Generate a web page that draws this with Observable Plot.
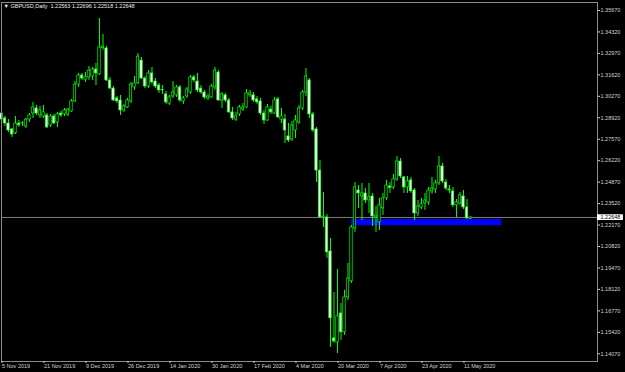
<!DOCTYPE html>
<html>
<head>
<meta charset="utf-8">
<script src="https://cdn.jsdelivr.net/npm/d3@7"></script>
<script src="https://cdn.jsdelivr.net/npm/@observablehq/plot@0.6"></script>
<style>
  html, body { margin: 0; padding: 0; background: #000; }
  #chart { width: 625px; height: 372px; }
</style>
</head>
<body>
<div id="chart"></div>
<script>
const symbol = "GBPUSD";
const timeframe = "Daily";

const open = [
1.2919,1.2888,1.2856,1.2819,1.2794,1.2856,1.2855,1.2837,1.2881,1.2919,
1.2951,1.2907,1.2900,1.2907,1.2844,1.2900,1.2863,1.2919,1.2913,1.2913,
1.2932,1.2995,1.3101,1.3158,1.3133,1.3146,1.3152,1.3196,1.3165,1.3330,
1.3328,1.3127,1.3076,1.3014,1.3001,1.2938,1.2957,1.2995,1.3083,1.3108,
1.3252,1.3139,1.3089,1.3171,1.3120,1.3095,1.3064,1.3039,1.2982,1.3026,
1.3033,1.3083,1.2995,1.3026,1.3051,1.3146,1.3120,1.3076,1.3051,1.3014,
1.3020,1.3083,1.3177,1.3001,1.3033,1.3001,1.2926,1.2881,1.2913,1.2944,
1.2957,1.3033,1.3033,1.3008,1.2995,1.2919,1.2875,1.2944,1.2919,1.3008,
1.2881,1.2881,1.2775,1.2756,1.2812,1.2863,1.2951,1.3051,1.3127,1.2913,
1.2819,1.2560,1.2265,1.2265,1.2051,1.1504,1.1479,1.1661,1.1542,1.1762,
1.1863,1.2196,1.2435,1.2397,1.2416,1.2372,1.2397,1.2265,1.2234,1.2322,
1.2385,1.2460,1.2454,1.2504,1.2617,1.2517,1.2454,1.2498,1.2435,1.2290,
1.2328,1.2353,1.2359,1.2429,1.2441,1.2479,1.2586,1.2485,1.2441,1.2429,
1.2341,1.2353,1.2397,1.2328,1.22563
];
const high = [
1.2938,1.2900,1.2881,1.2825,1.2900,1.2875,1.2869,1.2888,1.2919,1.2989,
1.2970,1.2964,1.2970,1.2919,1.2913,1.2913,1.2926,1.2932,1.2951,1.2951,
1.3008,1.3120,1.3171,1.3171,1.3177,1.3215,1.3209,1.3234,1.3517,1.3416,
1.3341,1.3146,1.3089,1.3026,1.3033,1.2976,1.3014,1.3114,1.3152,1.3296,
1.3271,1.3152,1.3189,1.3209,1.3139,1.3108,1.3095,1.3058,1.3033,1.3120,
1.3095,1.3095,1.3026,1.3083,1.3158,1.3158,1.3171,1.3095,1.3064,1.3039,
1.3101,1.3209,1.3189,1.3051,1.3045,1.3014,1.2957,1.2926,1.2970,1.2982,
1.3070,1.3064,1.3051,1.3026,1.3014,1.2938,1.2976,1.2964,1.3020,1.3020,
1.2951,1.2913,1.2856,1.2869,1.2907,1.2970,1.3064,1.3202,1.3139,1.2926,
1.2831,1.2623,1.2422,1.2284,1.2133,1.1793,1.1938,1.1724,1.1806,1.1976,
1.2215,1.2485,1.2466,1.2479,1.2447,1.2479,1.2416,1.2334,1.2385,1.2416,
1.2498,1.2485,1.2536,1.2649,1.2636,1.2523,1.2523,1.2517,1.2447,1.2372,
1.2385,1.2416,1.2454,1.2517,1.2498,1.2649,1.2605,1.2504,1.2466,1.2454,
1.2378,1.2422,1.2435,1.2378,1.22696
];
const low = [
1.2869,1.2837,1.2800,1.2768,1.2787,1.2831,1.2837,1.2825,1.2863,1.2888,
1.2907,1.2888,1.2888,1.2825,1.2831,1.2850,1.2831,1.2894,1.2900,1.2900,
1.2926,1.2989,1.3083,1.3127,1.3114,1.3127,1.3127,1.3095,1.3158,1.3315,
1.3120,1.3070,1.2995,1.2982,1.2907,1.2926,1.2951,1.2982,1.3064,1.3101,
1.3133,1.3076,1.3076,1.3101,1.3076,1.3045,1.3039,1.2976,1.2970,1.3014,
1.3020,1.2989,1.2976,1.3014,1.3039,1.3114,1.3051,1.3039,1.3008,1.3001,
1.3014,1.3064,1.2995,1.2951,1.2989,1.2919,1.2875,1.2869,1.2900,1.2932,
1.2951,1.3020,1.2989,1.2976,1.2907,1.2850,1.2869,1.2913,1.2913,1.2888,
1.2856,1.2730,1.2737,1.2743,1.2762,1.2850,1.2938,1.3026,1.2888,1.2800,
1.2485,1.2259,1.2202,1.2007,1.1447,1.1472,1.1409,1.1491,1.1523,1.1743,
1.1850,1.2171,1.2322,1.2246,1.2353,1.2290,1.2208,1.2171,1.2183,1.2277,
1.2372,1.2416,1.2441,1.2491,1.2510,1.2416,1.2416,1.2416,1.2246,1.2271,
1.2315,1.2309,1.2341,1.2410,1.2416,1.2466,1.2479,1.2435,1.2416,1.2328,
1.2265,1.2341,1.2315,1.2252,1.22518
];
const close = [
1.2881,1.2856,1.2812,1.2787,1.2856,1.2844,1.2857,1.2881,1.2907,1.2957,
1.2919,1.2938,1.2926,1.2831,1.2900,1.2856,1.2913,1.2907,1.2938,1.2944,
1.2995,1.3101,1.3158,1.3139,1.3146,1.3189,1.3196,1.3171,1.3334,1.3341,
1.3127,1.3076,1.3001,1.2995,1.2938,1.2964,1.3001,1.3101,1.3108,1.3277,
1.3139,1.3089,1.3171,1.3114,1.3089,1.3064,1.3067,1.2989,1.3020,1.3051,
1.3083,1.3001,1.3014,1.3070,1.3146,1.3127,1.3064,1.3051,1.3020,1.3026,
1.3089,1.3189,1.3001,1.3039,1.3001,1.2926,1.2888,1.2900,1.2957,1.2957,
1.3045,1.3045,1.3001,1.2989,1.2919,1.2875,1.2957,1.2926,1.3001,1.2894,
1.2900,1.2812,1.2749,1.2844,1.2875,1.2951,1.3051,1.3152,1.2913,1.2812,
1.2560,1.2265,1.2271,1.2045,1.1630,1.1485,1.1642,1.1542,1.1762,1.1881,
1.2202,1.2454,1.2416,1.2416,1.2372,1.2391,1.2271,1.2277,1.2341,1.2385,
1.2466,1.2450,1.2504,1.2617,1.2523,1.2454,1.2491,1.2429,1.2290,1.2334,
1.2347,1.2372,1.2435,1.2447,1.2479,1.2586,1.2491,1.2447,1.2435,1.2341,
1.2359,1.2404,1.2328,1.2259,1.22648
];

// x-axis labels (bar index of each labelled day)
const xTickIndex = [0, 12, 24, 36, 48, 60, 72, 84, 96, 108, 120, 132];
const xTickLabels = ["5 Nov 2019", "21 Nov 2019", "9 Dec 2019", "26 Dec 2019", "14 Jan 2020", "30 Jan 2020",
  "17 Feb 2020", "4 Mar 2020", "20 Mar 2020", "7 Apr 2020", "23 Apr 2020", "11 May 2020"];

// price axis ticks
const yTicks = [1.35670, 1.34320, 1.32970, 1.31620, 1.30270, 1.28920, 1.27570, 1.26220, 1.24870,
  1.23520, 1.22170, 1.20820, 1.19470, 1.18120, 1.16770, 1.15420, 1.14070];

// blue support zone (bar index range and price range)
const zoneStart = [100];
const zoneEnd = [143];
const zoneLow = [1.2213];
const zoneHigh = [1.2252];

const bars = open.map((o, i) => ({ i, open: o, high: high[i], low: low[i], close: close[i] }));
const bull = bars.filter(d => d.close >= d.open);
const bear = bars.filter(d => d.close < d.open);
const last = bars[bars.length - 1];
const zone = zoneStart.map((s, k) => ({ x1: s, x2: zoneEnd[k], y1: zoneLow[k], y2: zoneHigh[k] }));

const xMax = 170.29;
const half = 0.35;
const green = "#00ff00";
const font = "'Liberation Sans', Arial, sans-serif";
const fs = 5.5;
const axisColor = "#d4d4d4";

const title = `▼ ${symbol},${timeframe}  ${[last.open, last.high, last.low, last.close].map(v => v.toFixed(5)).join(" ")}`;

const chart = Plot.plot({
  width: 625,
  height: 372,
  marginLeft: 1,
  marginRight: 28,
  marginTop: 2,
  marginBottom: 11,
  style: { background: "#000", color: axisColor, fontFamily: font, fontSize: fs + "px" },
  x: { type: "linear", domain: [0, xMax] },
  y: { type: "linear", domain: [1.13586, 1.36173] },
  marks: [
    Plot.rect(zone, { x1: "x1", x2: "x2", y1: "y1", y2: "y2", fill: "#0000ff" }),
    Plot.ruleY([last.close], { stroke: "#7c7c7c", strokeWidth: 1 }),
    Plot.ruleX(bars, { x: "i", y1: "low", y2: "high", stroke: green, strokeWidth: 1 }),
    Plot.rect(bull, { x1: d => d.i - half, x2: d => d.i + half, y1: "open", y2: "close", fill: "#000", stroke: green, strokeWidth: 0.7 }),
    Plot.rect(bear, { x1: d => d.i - half, x2: d => d.i + half, y1: "open", y2: "close", fill: "#fff", stroke: green, strokeWidth: 0.7 }),
    Plot.frame({ stroke: "#8c8c8c" }),
    Plot.axisY({ ticks: yTicks, anchor: "right", tickFormat: d => d.toFixed(5), tickSize: 2, tickPadding: 1,
      fontSize: fs, fill: axisColor, stroke: axisColor, label: null }),
    Plot.axisX({ ticks: xTickIndex, tickFormat: d => xTickLabels[xTickIndex.indexOf(d)], tickSize: 2, tickPadding: 1,
      textAnchor: "start", dx: 0.5, fontSize: fs, fill: axisColor, stroke: axisColor, label: null }),
    Plot.rect([last], { x1: () => xMax, x2: () => xMax + 7.4, y1: d => d.close - 0.0019, y2: d => d.close + 0.0017, fill: "#fff" }),
    Plot.text([last], { x: () => xMax, y: "close", text: d => d.close.toFixed(5), dx: 3, textAnchor: "start", fill: "#000", fontSize: fs }),
    Plot.text([title], { frameAnchor: "top-left", dx: 2, dy: 1.3, textAnchor: "start", lineAnchor: "top", fill: "#ececec", fontSize: fs })
  ]
});

document.getElementById("chart").appendChild(chart);
</script>
</body>
</html>
